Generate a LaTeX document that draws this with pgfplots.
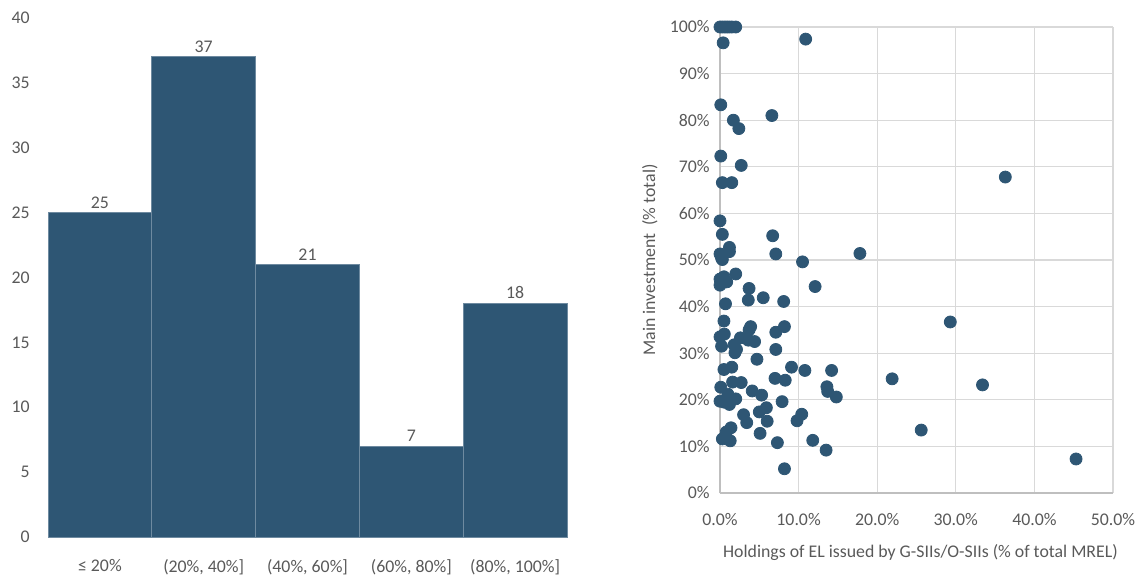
\documentclass[border=0pt]{standalone}
\usepackage{fontspec}
\setmainfont{Carlito}
\usepackage{pgfplots}
\pgfplotsset{compat=1.18}
\pgfplotsset{/pgf/number format/assume math mode=true}
\definecolor{barblue}{RGB}{46,86,116}
\definecolor{sepblue}{RGB}{110,138,160}
\definecolor{txtgray}{RGB}{89,89,89}
\definecolor{gridgray}{RGB}{217,217,217}
\definecolor{axgray}{RGB}{191,191,191}
\newcommand{\lblfont}{\fontsize{8.9}{10.5}\selectfont}
\begin{document}
\begin{tikzpicture}[x=1pt,y=1pt]
\lblfont
\path (0,0) rectangle (573.5,290);
% ---------- histogram ----------
\begin{axis}[
  at={(24pt,21.5pt)}, anchor=south west,
  scale only axis, width=259.5pt, height=259.5pt,
  xmin=-0.5, xmax=4.5, ymin=0, ymax=40,
  ytick={0,5,...,40},
  xtick={0,1,2,3,4},
  xticklabels={{≤ 20\%},{(20\%, 40\%]},{(40\%, 60\%]},{(60\%, 80\%]},{(80\%, 100\%]}},
  axis x line*=bottom, axis y line=none,
  ymajorgrids, grid style={gridgray, line width=0.6pt},
  x axis line style={axgray, line width=0.6pt},
  major tick length=0pt,
  tick label style={txtgray, font=\lblfont},
  xticklabel style={yshift=-8pt},
  ytick style={draw=none},
  clip=false,
]
\addplot[ybar, bar width=1, fill=barblue, draw=sepblue, line width=0.5pt,
  nodes near coords, every node near coord/.append style={txtgray, font=\lblfont, yshift=-1pt}]
  coordinates {(0,25) (1,37) (2,21) (3,7) (4,18)};
\end{axis}
\begin{axis}[
  at={(24pt,21.5pt)}, anchor=south west,
  scale only axis, width=259.5pt, height=259.5pt,
  xmin=-0.5, xmax=4.5, ymin=0, ymax=40,
  ytick={0,5,...,40}, xtick=\empty,
  axis x line=none, axis y line*=left,
  y axis line style={draw=none},
  major tick length=0pt,
  yticklabel style={txtgray, font=\lblfont, xshift=-6pt},
]
\addplot[draw=none] coordinates {(0,0)};
\end{axis}
% ---------- scatter ----------
\begin{axis}[
  at={(360pt,43.5pt)}, anchor=south west,
  scale only axis, width=196.5pt, height=233pt,
  xmin=0, xmax=50, ymin=0, ymax=100,
  xtick={0,10,...,50}, ytick={0,10,...,100},
  xticklabel={\pgfmathprintnumber[fixed,fixed zerofill,precision=1]{\tick}\%},
  yticklabel={\pgfmathprintnumber[fixed,precision=0]{\tick}\%},
  axis x line*=bottom, axis y line*=left,
  axis line style={axgray, line width=0.8pt, -},
  grid=major, grid style={gridgray, line width=0.6pt},
  major tick length=0pt,
  tick label style={txtgray, font=\lblfont},
  xticklabel style={yshift=-7pt},
  yticklabel style={xshift=-2pt},
  xlabel={Holdings of EL issued by G-SIIs/O-SIIs (\% of total MREL)},
  ylabel={Main investment\ \ (\% total)},
  label style={txtgray, font=\lblfont},
  xlabel style={yshift=-3.5pt, xshift=2pt},
  ylabel style={yshift=0pt},
  clip=false,
]
\addplot[only marks, mark=*, mark size=3pt, mark options={fill=barblue, draw=barblue}]
coordinates {
(0.0,100)(0.3,100)(0.6,100)(0.9,100)(1.2,100)(1.5,100)(2.0,100)
(0.4,96.6)(10.9,97.4)(0.1,83.3)(1.7,80.0)(6.6,81.0)(2.4,78.2)
(0.1,72.3)(2.7,70.3)(0.3,66.6)(1.5,66.6)(36.3,67.8)
(0.0,58.4)(0.3,55.5)(6.7,55.2)(1.2,52.7)(1.2,51.8)(0.0,51.3)(7.1,51.3)(17.8,51.4)
(0.2,50.4)(0.3,50.1)(10.5,49.6)
(0.0,45.9)(0.5,46.4)(0.85,45.3)(0.0,44.6)(2.0,47.0)(3.7,43.9)(12.1,44.3)
(0.7,40.6)(3.6,41.4)(5.5,41.9)(8.1,41.1)
(0.5,36.9)(3.9,35.7)(3.7,35.0)(8.2,35.7)(7.1,34.5)(29.3,36.7)
(0.0,33.5)(0.55,34.1)(2.6,33.3)(3.6,32.8)(4.4,32.5)
(0.2,31.5)(1.8,31.8)(2.1,30.8)(1.9,30.1)(7.1,30.8)(4.7,28.7)
(0.5,26.5)(1.5,27.0)(9.1,27.0)(10.8,26.3)(14.2,26.3)
(21.9,24.5)(7.0,24.6)(8.3,24.2)(1.6,23.8)(2.7,23.7)(33.4,23.2)
(0.1,22.7)(13.6,22.8)(13.7,21.8)(4.1,21.9)(5.3,21.0)(14.8,20.6)(1.0,21.2)
(0.0,19.7)(0.5,19.5)(1.2,19.0)(2.0,20.2)(7.9,19.6)
(3.0,16.8)(3.4,15.1)(5.0,17.4)(5.9,18.3)(6.0,15.4)(10.4,16.9)(9.8,15.5)
(1.4,14.0)(0.8,13.1)(0.3,11.6)(1.3,11.2)(5.1,12.8)(7.3,10.8)(11.8,11.3)
(13.5,9.2)(25.6,13.5)(8.2,5.2)(45.3,7.3)
};
\end{axis}
\end{tikzpicture}
\end{document}
